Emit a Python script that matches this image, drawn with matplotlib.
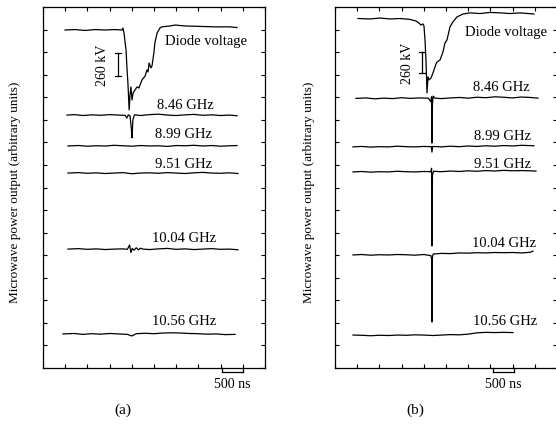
import matplotlib
matplotlib.use("Agg")
import matplotlib.pyplot as plt
import numpy as np

plt.rcParams['font.family'] = ['Liberation Serif', 'DejaVu Serif']

# time in ns, signal in screen divisions (arbitrary units)
# ---- panel (a) ----
diode_a_t = [495, 720, 950, 1170, 1400, 1620, 1780, 1800, 1825, 1850, 1870, 1890, 1915, 1940, 1960, 1980, 2005,
             2030, 2070, 2120, 2160, 2230, 2300, 2340, 2365, 2390, 2430, 2455, 2500, 2520, 2570, 2635, 2680,
             2860, 2975, 3200, 3535, 3875, 4210, 4370]
diode_a_v = [14.98, 15.0, 14.96, 15.0, 14.98, 15.0, 14.98, 15.07, 14.85, 14.41, 14.10, 13.34, 12.54, 11.44, 12.10,
             12.46, 11.88, 12.19, 12.32, 12.46, 12.41, 12.77, 12.94, 13.21, 13.12, 13.52, 13.30, 13.39, 14.01,
             14.41, 14.85, 15.07, 15.12, 15.16, 15.20, 15.16, 15.14, 15.12, 15.12, 15.09]

a846_t = [540, 700, 900, 1100, 1300, 1500, 1700, 1850, 1890, 1920, 1960, 1990, 2005, 2025, 2060, 2200, 2400,
          2600, 2800, 3000, 3200, 3400, 3600, 3800, 4000, 4200, 4370]
a846_v = [11.21, 11.23, 11.19, 11.22, 11.20, 11.23, 11.21, 11.20, 11.08, 11.22, 11.18, 10.6, 10.2, 11.0, 11.22,
          11.19, 11.23, 11.25, 11.21, 11.19, 11.22, 11.24, 11.20, 11.22, 11.19, 11.21, 11.18]

a899_t = [563, 800, 1000, 1200, 1400, 1600, 1800, 2000, 2200, 2400, 2600, 2800, 3000, 3200, 3400, 3600, 3800,
          4000, 4200, 4370]
a899_v = [9.84, 9.86, 9.83, 9.85, 9.84, 9.87, 9.85, 9.83, 9.86, 9.84, 9.85, 9.82, 9.86, 9.85, 9.87, 9.84, 9.86,
          9.83, 9.85, 9.86]

a951_t = [563, 800, 1000, 1200, 1400, 1600, 1800, 2000, 2200, 2400, 2600, 2800, 3000, 3200, 3400, 3600, 3800,
          4000, 4200, 4390]
a951_v = [8.64, 8.66, 8.63, 8.65, 8.62, 8.64, 8.66, 8.61, 8.64, 8.65, 8.63, 8.66, 8.64, 8.62, 8.65, 8.67, 8.64,
          8.63, 8.65, 8.62]

a1004_t = [563, 800, 1000, 1200, 1400, 1600, 1800, 1900, 1950, 1980, 2010, 2050, 2100, 2150, 2200, 2250, 2400,
           2600, 2800, 3000, 3200, 3400, 3600, 3800, 4000, 4200, 4390]
a1004_v = [5.27, 5.29, 5.26, 5.28, 5.25, 5.27, 5.28, 5.26, 5.45, 5.12, 5.30, 5.22, 5.33, 5.24, 5.31, 5.27, 5.25,
           5.28, 5.30, 5.26, 5.28, 5.25, 5.27, 5.29, 5.26, 5.27, 5.24]

a1056_t = [450, 700, 900, 1100, 1300, 1500, 1700, 1900, 2000, 2100, 2300, 2500, 2700, 2900, 3100, 3300, 3500,
           3700, 3900, 4100, 4325]
a1056_v = [1.51, 1.53, 1.49, 1.52, 1.50, 1.53, 1.51, 1.49, 1.42, 1.52, 1.54, 1.52, 1.55, 1.56, 1.55, 1.53, 1.52,
           1.50, 1.51, 1.48, 1.49]

# ---- panel (b) ----
diode_b_t = [518, 788, 1013, 1239, 1464, 1689, 1824, 1892, 1937, 1982, 2004, 2027, 2049, 2072, 2094, 2117, 2162,
             2207, 2275, 2297, 2365, 2432, 2477, 2522, 2590, 2657, 2747, 2883, 3040, 3265, 3491, 3716, 3941,
             4166, 4481]
diode_b_v = [15.49, 15.47, 15.51, 15.47, 15.49, 15.45, 15.38, 15.29, 15.20, 15.25, 15.16, 14.54, 13.65, 12.19,
             12.90, 12.77, 12.85, 13.08, 13.48, 13.56, 13.65, 14.01, 14.41, 14.54, 15.12, 15.34, 15.56, 15.69,
             15.74, 15.71, 15.76, 15.74, 15.71, 15.74, 15.69]

b846_t = [473, 700, 900, 1100, 1300, 1500, 1700, 1900, 2100, 2160, 2175, 2184, 2195, 2210, 2250, 2400, 2600,
          2800, 3000, 3200, 3400, 3600, 3800, 4000, 4200, 4400, 4571]
b846_v = [11.95, 11.97, 11.93, 11.96, 11.94, 11.98, 11.95, 11.97, 11.96, 11.80, 12.02, 9.97, 11.70, 12.05, 11.96,
          11.94, 11.97, 11.99, 11.96, 12.00, 11.98, 12.02, 12.00, 11.97, 12.01, 11.99, 11.96]

b899_t = [405, 600, 800, 1000, 1200, 1400, 1600, 1800, 2000, 2170, 2184, 2200, 2400, 2600, 2800, 3000, 3200,
          3400, 3600, 3800, 4000, 4200, 4481]
b899_v = [9.80, 9.82, 9.79, 9.81, 9.80, 9.83, 9.81, 9.80, 9.82, 9.81, 9.57, 9.82, 9.80, 9.83, 9.81, 9.84, 9.82,
          9.85, 9.83, 9.86, 9.84, 9.87, 9.85]

b951_t = [405, 600, 800, 1000, 1200, 1400, 1600, 1800, 2000, 2160, 2175, 2184, 2195, 2220, 2400, 2600, 2800,
          3000, 3200, 3400, 3600, 3800, 4000, 4200, 4526]
b951_v = [8.69, 8.71, 8.68, 8.70, 8.69, 8.72, 8.70, 8.69, 8.71, 8.70, 8.85, 5.41, 8.55, 8.72, 8.70, 8.73, 8.71,
          8.74, 8.72, 8.75, 8.73, 8.76, 8.74, 8.75, 8.73]

b1004_t = [405, 600, 800, 1000, 1200, 1400, 1600, 1800, 2000, 2160, 2178, 2184, 2190, 2210, 2400, 2600, 2800,
           3000, 3200, 3400, 3600, 3800, 4000, 4200, 4400, 4459]
b1004_v = [5.01, 5.03, 5.00, 5.02, 5.01, 5.03, 5.02, 5.00, 5.03, 4.98, 4.80, 2.04, 4.85, 5.05, 5.08, 5.07, 5.10,
           5.09, 5.11, 5.10, 5.12, 5.11, 5.12, 5.10, 5.13, 5.18]

b1056_t = [405, 600, 800, 1000, 1200, 1400, 1600, 1800, 2000, 2200, 2400, 2600, 2800, 3000, 3200, 3400, 3600,
           3800, 4009]
b1056_v = [1.46, 1.45, 1.43, 1.45, 1.44, 1.46, 1.45, 1.47, 1.46, 1.44, 1.46, 1.48, 1.47, 1.50, 1.56, 1.58, 1.57,
           1.58, 1.57]

freq_labels = ['8.46 GHz', '8.99 GHz', '9.51 GHz', '10.04 GHz', '10.56 GHz']

panels = [
    dict(traces=[(diode_a_t, diode_a_v), (a846_t, a846_v), (a899_t, a899_v), (a951_t, a951_v),
                 (a1004_t, a1004_v), (a1056_t, a1056_v)],
         label_pos=[(3198, 11.65), (3175, 10.33), (3175, 9.04), (3175, 5.72), (3175, 2.04)],
         diode_pos=(3660, 14.45), kv_x=1689, kv_y=(12.94, 13.96), kv_text=(1351, 13.43),
         ns_bar=(4031, 4504), name='(a)', left=43, ylab_x=15, right_spine=True),
    dict(traces=[(diode_b_t, diode_b_v), (b846_t, b846_v), (b899_t, b899_v), (b951_t, b951_v),
                 (b1004_t, b1004_v), (b1056_t, b1056_v)],
         label_pos=[(3738, 12.41), (3783, 10.28), (3783, 9.04), (3806, 5.50), (3828, 2.04)],
         diode_pos=(3843, 14.89), kv_x=1959, kv_y=(13.08, 14.01), kv_text=(1644, 13.52),
         ns_bar=(3558, 4031), name='(b)', left=335, ylab_x=309, right_spine=False),
]

W, H = 556, 424
fig = plt.figure(figsize=(W / 100, H / 100), dpi=100)

for p in panels:
    ax = fig.add_axes([p['left'] / W, 56 / H, 222 / W, 361 / H])
    for t, v in p['traces']:
        ax.plot(t, v, color='black', lw=0.9)
    for lab, (x, y) in zip(freq_labels, p['label_pos']):
        ax.text(x, y, lab, ha='center', va='center', fontsize=10.5)
    ax.text(*p['diode_pos'], 'Diode voltage', ha='center', va='center', fontsize=10.5)

    # 260 kV scale bar
    kx = p['kv_x']
    y0, y1 = p['kv_y']
    ax.plot([kx, kx], [y0, y1], color='black', lw=0.9)
    ax.plot([kx - 70, kx + 70], [y0, y0], color='black', lw=0.9)
    ax.plot([kx - 70, kx + 70], [y1, y1], color='black', lw=0.9)
    ax.text(*p['kv_text'], '260 kV', rotation=90, ha='center', va='center', fontsize=10)

    # 500 ns scale bar under the axis
    x0, x1 = p['ns_bar']
    ax.plot([x0, x1], [-0.18, -0.18], color='black', lw=0.9, clip_on=False)
    ax.plot([x0, x0], [-0.18, 0.02], color='black', lw=0.9, clip_on=False)
    ax.plot([x1, x1], [-0.18, 0.02], color='black', lw=0.9, clip_on=False)
    ax.text((x0 + x1) / 2, -0.75, '500 ns', ha='center', va='center', fontsize=10)

    ax.set_xlim(0, 5000)
    ax.set_ylim(0, 16)
    ax.set_xticks(np.arange(0, 5001, 500))
    ax.set_yticks(np.arange(0, 17, 1))
    ax.tick_params(direction='in', length=3, width=0.8, top=True, right=True,
                   labelbottom=False, labelleft=False)
    for s in ax.spines.values():
        s.set_linewidth(0.9)
    ax.spines['right'].set_visible(p['right_spine'])

    fig.text(p['ylab_x'] / W, 1 - 192 / H, 'Microwave power output (arbitrary units)',
             rotation=90, ha='center', va='center', fontsize=9.5)
    fig.text((p['left'] + 80) / W, 1 - 410 / H, p['name'], ha='center', va='center', fontsize=11)

fig.savefig('out.png', dpi=100)
